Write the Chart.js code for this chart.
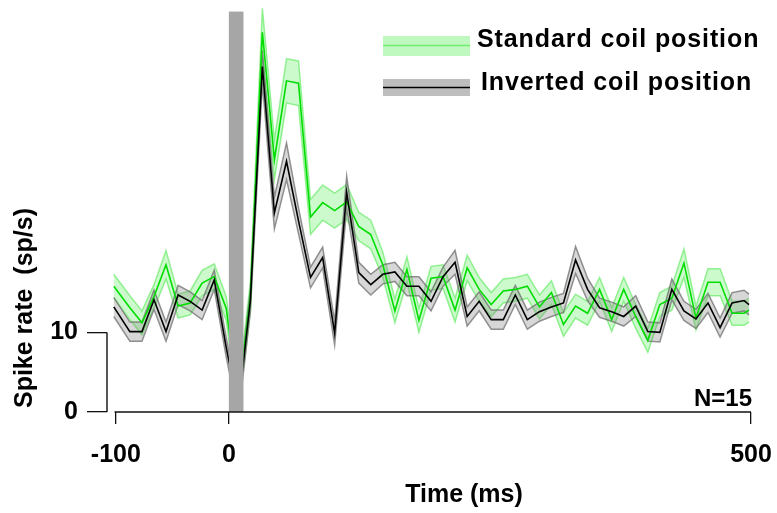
<!DOCTYPE html>
<html>
<head>
<meta charset="utf-8">
<script src="https://cdn.jsdelivr.net/npm/chart.js@4.4.1/dist/chart.umd.min.js"></script>
<style>
  html, body { margin: 0; padding: 0; background: #fff; }
  #wrap { width: 777px; height: 513px; }
</style>
</head>
<body>
<div id="wrap"><canvas id="chart" width="777" height="513"></canvas></div>
<script>
// bin centres (ms)
const times = [-110.2, -94.8, -83.2, -71.7, -60.2, -48.6, -37.1, -25.6, -14.0, -2.5,
  9.0, 20.6, 32.1, 43.6, 55.2, 66.7, 78.2, 89.8, 101.3, 112.8,
  124.4, 135.9, 147.4, 159.0, 170.5, 182.0, 193.6, 205.1, 216.6, 228.2,
  239.7, 251.2, 262.8, 274.3, 285.8, 297.4, 308.9, 320.4, 332.0, 343.5,
  355.0, 366.6, 378.1, 389.6, 401.2, 412.7, 424.2, 435.8, 447.3, 458.8,
  470.4, 481.9, 493.4, 498.1]

const standardMean = [15.8, 13.1, 11.2, 14.5, 18.5, 13.3, 13.7, 16.2, 17.0, 13.0,
  1.5, 14.5, 47.7, 31.7, 41.6, 41.3, 24.5, 26.3, 25.3, 26.4,
  23.3, 22.3, 18.5, 12.7, 17.9, 11.5, 16.8, 17.0, 12.8, 18.1,
  15.4, 13.5, 15.2, 15.4, 15.8, 13.2, 15.0, 11.0, 13.3, 12.4,
  15.4, 11.6, 15.4, 12.0, 9.0, 13.5, 14.3, 18.7, 11.8, 16.3,
  16.3, 12.4, 12.4, 12.8]
const standardSem = [1.5, 1.5, 1.5, 1.5, 1.8, 1.5, 1.5, 1.6, 1.6, 1.5,
  1.5, 1.8, 3.0, 2.5, 2.8, 2.8, 2.2, 2.2, 2.2, 2.2,
  1.8, 1.8, 1.6, 1.5, 1.6, 1.5, 1.5, 1.5, 1.5, 1.6,
  1.5, 1.5, 1.5, 1.5, 1.5, 1.5, 1.5, 1.5, 1.5, 1.5,
  1.5, 1.5, 1.5, 1.5, 1.5, 1.5, 1.5, 1.8, 1.5, 1.7,
  1.7, 1.5, 1.5, 1.5]

const invertedMean = [13.2, 10.1, 10.1, 14.1, 10.1, 14.7, 13.9, 12.8, 16.6, 8.1,
  0.5, 14.0, 43.4, 25.0, 31.5, 24.0, 16.9, 19.4, 9.9, 27.6,
  17.5, 16.0, 17.3, 17.6, 15.8, 15.8, 13.9, 17.0, 18.8, 12.0,
  13.9, 11.6, 11.6, 14.7, 11.6, 12.6, 13.2, 13.7, 19.1, 15.4,
  13.1, 12.6, 12.0, 13.3, 10.1, 10.0, 15.4, 12.7, 11.7, 13.7,
  10.6, 13.7, 14.0, 13.5]
const invertedSem = [1.2, 1.2, 1.2, 1.2, 1.2, 1.2, 1.2, 1.2, 1.2, 1.2,
  1.2, 1.4, 2.0, 2.0, 2.3, 1.6, 1.3, 1.3, 1.5, 2.0,
  1.3, 1.3, 1.2, 1.2, 1.2, 1.2, 1.2, 1.2, 1.5, 1.2,
  1.2, 1.2, 1.2, 1.2, 1.2, 1.2, 1.2, 1.2, 1.7, 1.4,
  1.2, 1.2, 1.2, 1.3, 1.2, 1.2, 1.3, 1.2, 1.2, 1.2,
  1.2, 1.3, 1.3, 1.3]

// the printed time axis is not linear across the artefact: "-100" sits a bit further left
const xTickPos = [-108.2, 0, 500]
const xTickLabels = ['-100', '0', '500']
const yTickPos = [0, 10]

// stimulus artefact blanking (ms, sp/s)
const stimStart = 0
const stimEnd = 14
const stimTop = 50.3

const FONT = '"Liberation Sans", Arial, sans-serif'
const GREEN = '#00dd00'

function pts (vals) {
  return times.map((t, i) => ({ x: t, y: vals[i] }))
}
function band (mean, sem, sign) {
  return times.map((t, i) => ({ x: t, y: mean[i] + sign * sem[i] }))
}

const decor = {
  id: 'decor',
  afterDatasetsDraw (chart) {
    const { ctx, scales: { x, y } } = chart
    const x0 = x.getPixelForValue(stimStart)
    const x1 = x.getPixelForValue(stimEnd)
    const y0 = y.getPixelForValue(0)
    const y1 = y.getPixelForValue(stimTop)
    ctx.save()
    ctx.fillStyle = '#a6a6a6'
    ctx.fillRect(x0, y1, x1 - x0, y0 - y1)
    ctx.restore()
  },
  afterDraw (chart) {
    const { ctx, scales: { x, y } } = chart
    ctx.save()
    ctx.strokeStyle = '#111'
    ctx.lineWidth = 1.4
    // y bracket 0..10
    const ax = chart.chartArea.left
    ctx.beginPath()
    ctx.moveTo(ax, y.getPixelForValue(0))
    ctx.lineTo(ax, y.getPixelForValue(10))
    ctx.stroke()
    // x axis line
    ctx.beginPath()
    ctx.moveTo(x.getPixelForValue(-109.5), y.getPixelForValue(0))
    ctx.lineTo(x.getPixelForValue(500), y.getPixelForValue(0))
    ctx.stroke()

    ctx.fillStyle = '#000'
    ctx.font = 'bold 25px ' + FONT
    ctx.textAlign = 'center'
    ctx.textBaseline = 'alphabetic'
    ctx.fillText('Time (ms)', 464, 502)

    ctx.save()
    ctx.translate(31.5, 308)
    ctx.rotate(-Math.PI / 2)
    ctx.fillText('Spike rate  (sp/s)', 0, 0)
    ctx.restore()

    ctx.font = 'bold 24px ' + FONT
    ctx.textAlign = 'right'
    ctx.fillText('N=15', 752, 406)

    // legend
    ctx.fillStyle = 'rgba(0,230,0,0.25)'
    ctx.fillRect(383, 36, 87, 20)
    ctx.strokeStyle = '#70ee70'
    ctx.lineWidth = 1.5
    ctx.beginPath()
    ctx.moveTo(383, 45.5)
    ctx.lineTo(470, 45.5)
    ctx.stroke()
    ctx.fillStyle = '#bebebe'
    ctx.fillRect(383, 79, 87, 17)
    ctx.strokeStyle = '#000'
    ctx.lineWidth = 1.3
    ctx.beginPath()
    ctx.moveTo(383, 87.5)
    ctx.lineTo(470, 87.5)
    ctx.stroke()

    ctx.fillStyle = '#000'
    ctx.font = 'bold 25px ' + FONT
    ctx.textAlign = 'left'
    ctx.letterSpacing = '0.9px'
    ctx.fillText('Standard coil position', 477, 47)
    ctx.fillText('Inverted coil position', 481, 90)
    ctx.restore()
  }
}

const lineStyle = { pointRadius: 0, tension: 0, fill: false }

new Chart(document.getElementById('chart'), {
  type: 'line',
  data: {
    datasets: [
      { ...lineStyle, label: 'Inverted coil position', data: pts(invertedMean), borderColor: '#000', borderWidth: 1.6, order: 0 },
      { ...lineStyle, label: 'Standard coil position', data: pts(standardMean), borderColor: GREEN, borderWidth: 1.6, order: 1 },
      { ...lineStyle, data: band(invertedMean, invertedSem, 1), borderColor: 'rgba(110,110,110,0.75)', borderWidth: 1.5, fill: '+1', backgroundColor: 'rgba(130,130,130,0.32)', order: 2 },
      { ...lineStyle, data: band(invertedMean, invertedSem, -1), borderColor: 'rgba(110,110,110,0.75)', borderWidth: 1.5, order: 3 },
      { ...lineStyle, data: band(standardMean, standardSem, 1), borderColor: 'rgba(60,230,60,0.5)', borderWidth: 1.5, fill: '+1', backgroundColor: 'rgba(0,230,0,0.2)', order: 4 },
      { ...lineStyle, data: band(standardMean, standardSem, -1), borderColor: 'rgba(60,230,60,0.5)', borderWidth: 1.5, order: 5 }
    ]
  },
  options: {
    responsive: false,
    animation: false,
    layout: { padding: { top: 6, right: 26, left: 0, bottom: 0 } },
    plugins: { legend: { display: false }, tooltip: { enabled: false } },
    scales: {
      x: {
        type: 'linear',
        min: -116.7,
        max: 500,
        afterFit: (s) => { s.height = 101; s.paddingLeft = 0; s.paddingRight = 0 },
        afterBuildTicks: (s) => { s.ticks = xTickPos.map(v => ({ value: v })) },
        border: { display: false },
        grid: { drawOnChartArea: false, drawTicks: true, tickLength: 12, color: '#111', lineWidth: 1.3 },
        ticks: {
          autoSkip: false,
          maxRotation: 0,
          padding: 16,
          color: '#000',
          font: { family: FONT, size: 25, weight: 'bold' },
          callback: (v, i) => xTickLabels[i]
        }
      },
      y: {
        min: 0,
        max: 51,
        afterFit: (s) => { s.width = 107; s.paddingTop = 0; s.paddingBottom = 0 },
        afterBuildTicks: (s) => { s.ticks = yTickPos.map(v => ({ value: v })) },
        border: { display: false },
        grid: { drawOnChartArea: false, drawTicks: true, tickLength: 20, color: '#111', lineWidth: 1.3 },
        ticks: {
          padding: 9,
          color: '#000',
          font: { family: FONT, size: 25, weight: 'bold' }
        }
      }
    }
  },
  plugins: [decor]
})
</script>
</body>
</html>
